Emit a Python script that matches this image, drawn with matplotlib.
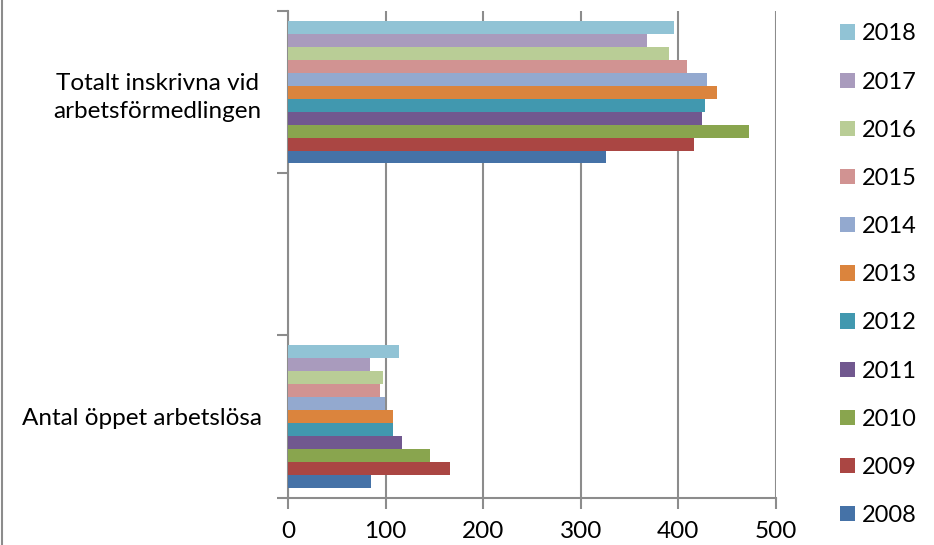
import numpy as np
import matplotlib
matplotlib.use("Agg")
import matplotlib.pyplot as plt
from matplotlib.patches import Patch
from matplotlib.lines import Line2D

plt.rcParams['font.family'] = ['Lato', 'DejaVu Sans']

# kategorier (mittenkategorin är tom i originalet)
kategorier = ['Antal öppet arbetslösa', '', 'Totalt inskrivna vid\narbetsförmedlingen']
ar = ['2008', '2009', '2010', '2011', '2012', '2013', '2014', '2015', '2016', '2017', '2018']

# värden per år: [öppet arbetslösa, tom, totalt inskrivna]
oppet_arbetslosa = [85, 166, 145, 117, 108, 108, 99, 94, 97, 84, 114]
totalt_inskrivna = [326, 416, 472, 424, 427, 440, 429, 409, 390, 368, 396]

farger = ['#4572A7', '#AA4643', '#89A54E', '#71588F', '#4198AF', '#DB843D',
          '#93A9CF', '#D19392', '#B9CD96', '#A99BBD', '#91C3D5']

fs = 17.5

fig = plt.figure(figsize=(9.34, 5.45), dpi=100)
ax = fig.add_axes([288/934, 1-497.7/545, (776-288)/934, (497.7-11)/545])

y = np.arange(len(kategorier))
bredd = 0.08
for i, namn in enumerate(ar):
    varden = [oppet_arbetslosa[i], 0, totalt_inskrivna[i]]
    ax.barh(y + (i - 5) * bredd, varden, height=bredd, color=farger[i],
            label=namn, zorder=3)

gra = '#8C8C8C'
ax.set_xlim(0, 500)
ax.set_ylim(-0.5, 2.5)
ax.set_xticks([0, 100, 200, 300, 400, 500])
ax.grid(True, axis='x', color=gra, linewidth=1.5, zorder=0)
ax.set_yticks(y)
ax.set_yticklabels(kategorier, fontsize=fs, multialignment='center', linespacing=1.4)
ax.set_yticks([-0.5, 0.5, 1.5, 2.5], minor=True)
ax.tick_params(axis='y', which='major', length=0, pad=19)
ax.tick_params(axis='y', which='minor', length=8, width=1.5, color=gra, direction='out')
ax.tick_params(axis='x', length=8, width=1.5, color=gra, direction='out',
               labelsize=fs, pad=9)

for s in ['top', 'right']:
    ax.spines[s].set_visible(False)
for s in ['left', 'bottom']:
    ax.spines[s].set_color(gra)
    ax.spines[s].set_linewidth(1.5)

# förklaring, 2018 överst
handtag = [Patch(facecolor=farger[i], label=ar[i]) for i in range(len(ar))][::-1]
fig.legend(handles=handtag, loc='upper left', bbox_to_anchor=(831/934, 1-14/545),
           frameon=False, fontsize=17, handlelength=0.62, handleheight=0.62,
           handletextpad=0.3, labelspacing=1.15, borderaxespad=0)

# ramlinje i vänsterkant
fig.add_artist(Line2D([1.5/934, 1.5/934], [0, 1], color=gra, linewidth=1.5))

plt.savefig('out.png', dpi=100)
